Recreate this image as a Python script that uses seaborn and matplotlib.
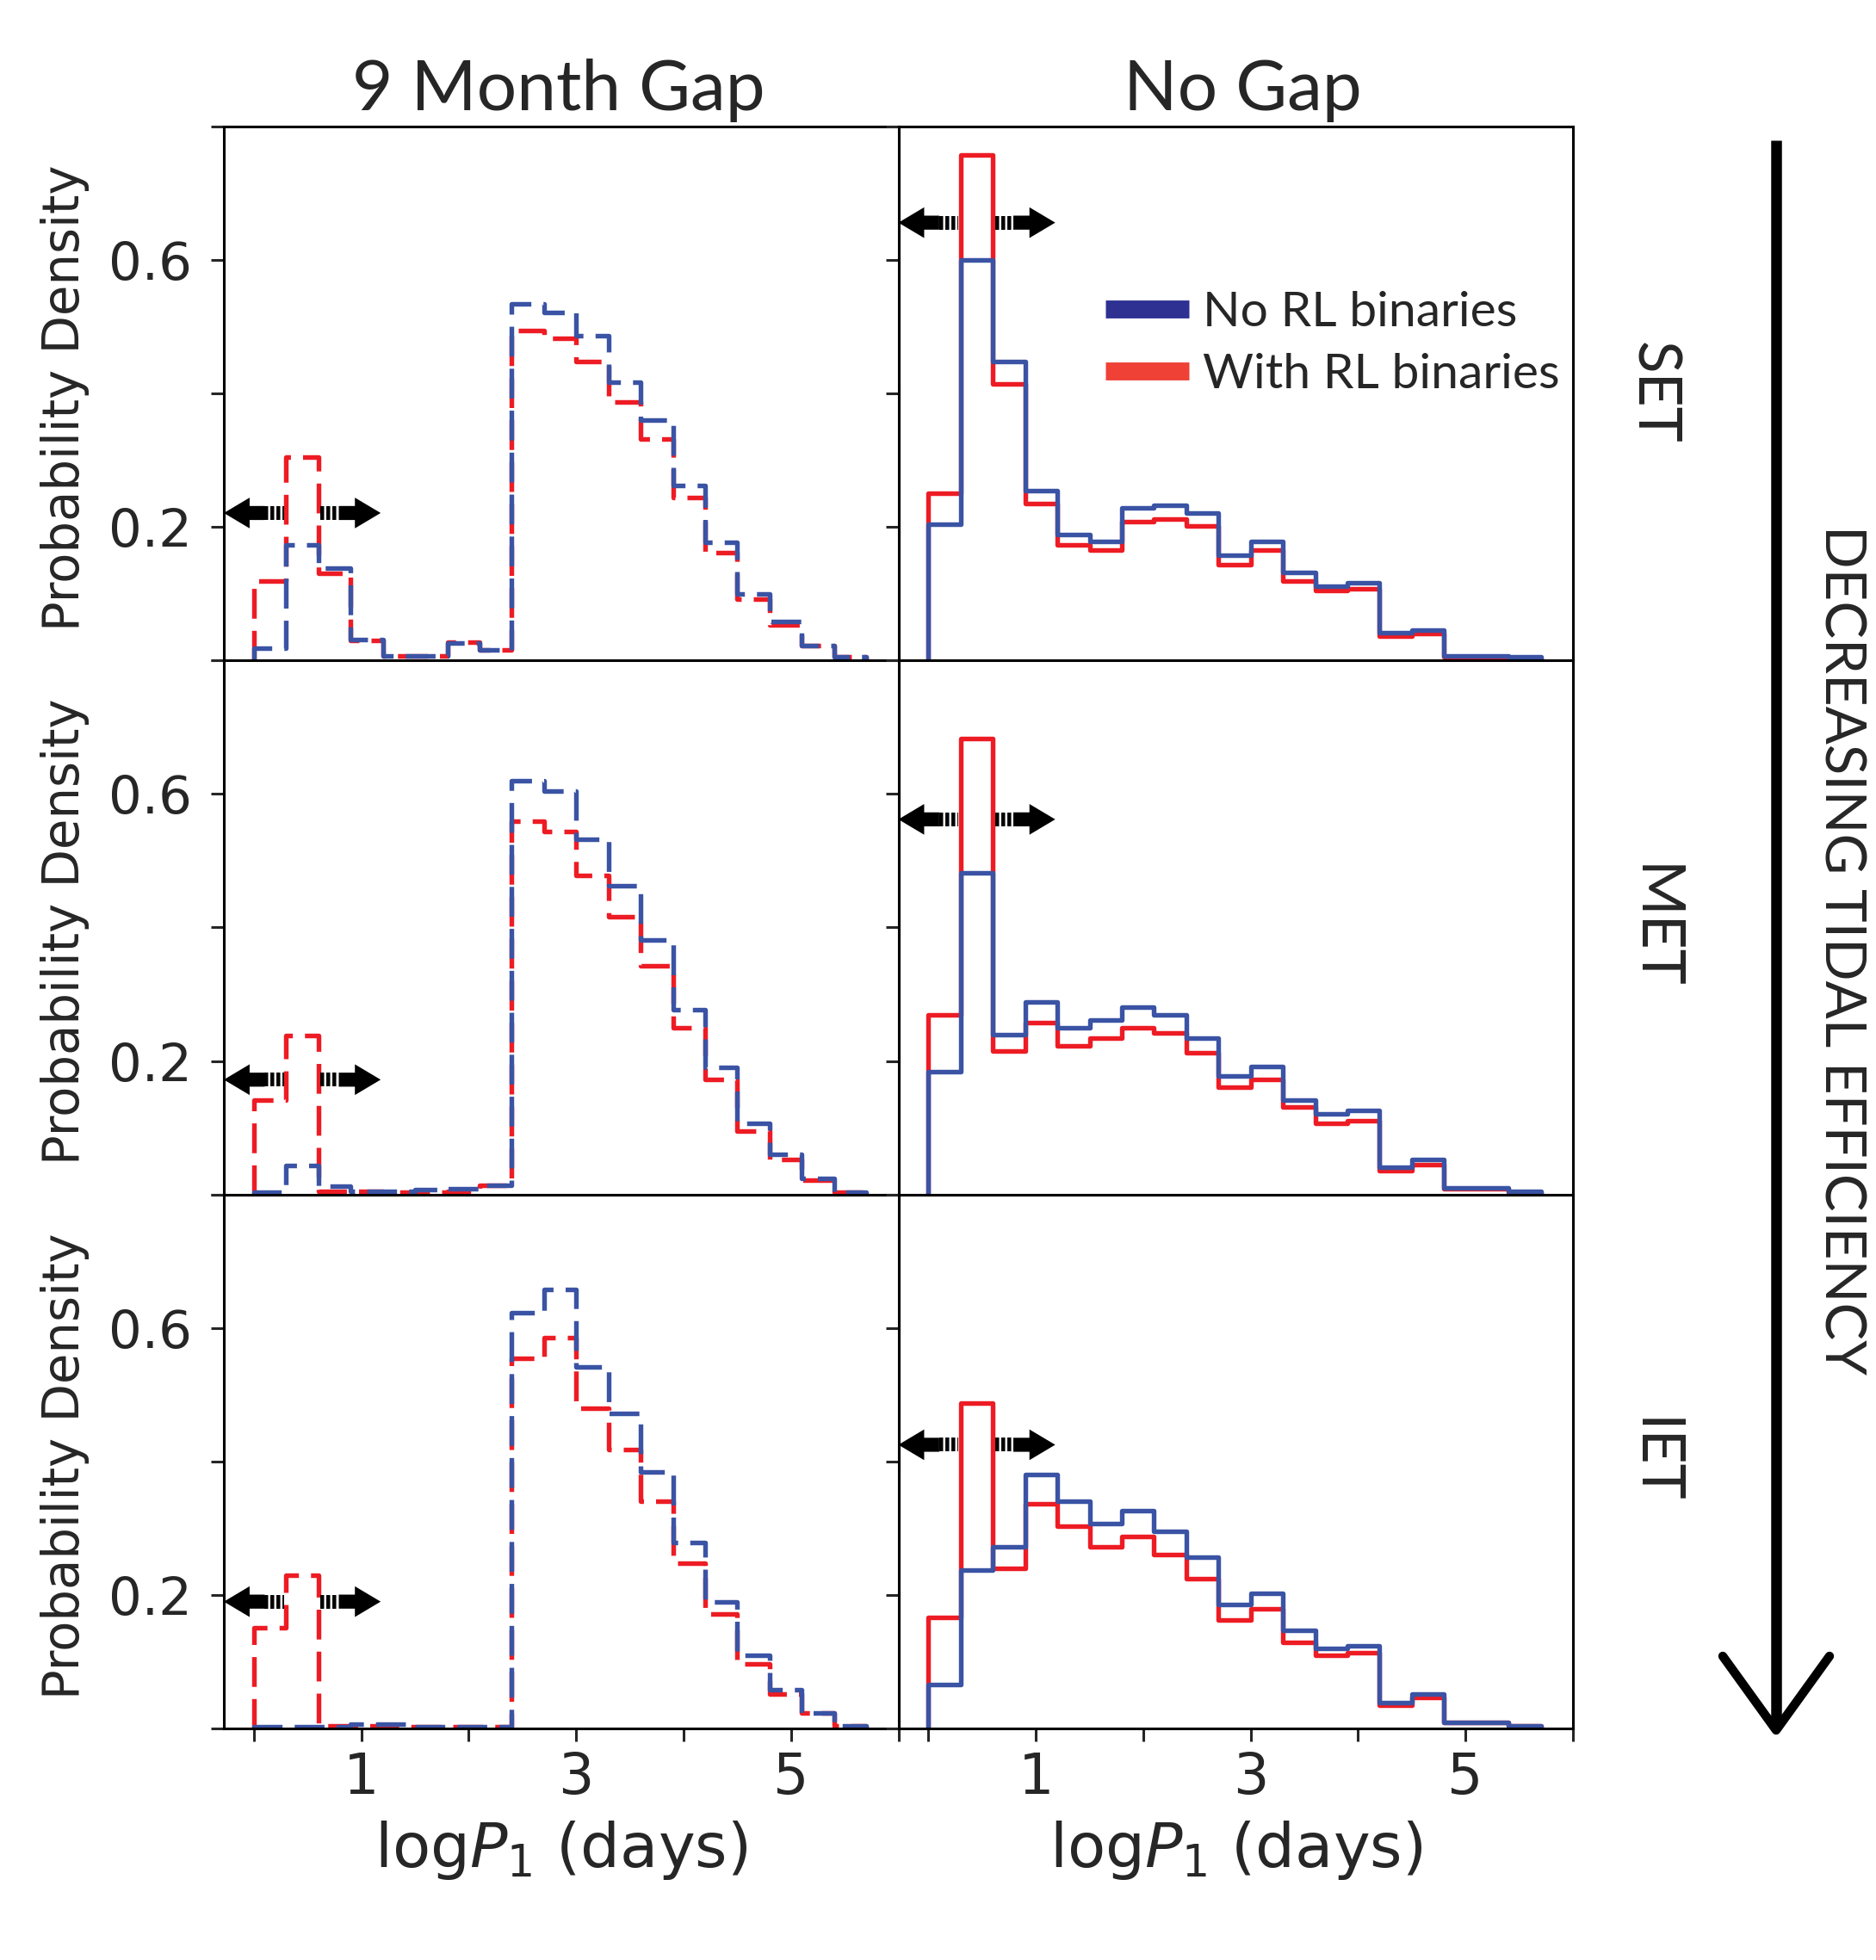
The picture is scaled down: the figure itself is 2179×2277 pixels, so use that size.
import numpy as np
import matplotlib
matplotlib.use("Agg")
import matplotlib.pyplot as plt
import seaborn as sns
from matplotlib.lines import Line2D
from matplotlib.patches import FancyArrow

# ---------------- data ----------------
bin_edges = [0.0, 0.3, 0.6, 0.9, 1.2, 1.5, 1.8, 2.1, 2.4, 2.7, 3.0,
             3.3, 3.6, 3.9, 4.2, 4.5, 4.8, 5.1, 5.4, 5.7]

gap_set_no_rl = [0.018, 0.173, 0.138, 0.031, 0.007, 0.007, 0.026, 0.016, 0.534, 0.521,
                 0.487, 0.417, 0.360, 0.262, 0.177, 0.100, 0.058, 0.022, 0.005]
gap_set_rl = [0.119, 0.305, 0.131, 0.030, 0.007, 0.007, 0.027, 0.016, 0.495, 0.483,
              0.448, 0.387, 0.332, 0.244, 0.162, 0.092, 0.053, 0.022, 0.005]
nogap_set_no_rl = [0.204, 0.600, 0.448, 0.255, 0.189, 0.178, 0.229, 0.232, 0.221, 0.158,
                   0.178, 0.132, 0.111, 0.116, 0.042, 0.046, 0.007, 0.007, 0.005]
nogap_set_rl = [0.251, 0.757, 0.414, 0.235, 0.173, 0.166, 0.208, 0.212, 0.202, 0.143,
                0.166, 0.119, 0.105, 0.108, 0.037, 0.040, 0.005, 0.004, 0.003]

gap_met_no_rl = [0.004, 0.044, 0.013, 0.005, 0.005, 0.007, 0.009, 0.014, 0.620, 0.605,
                 0.532, 0.462, 0.381, 0.277, 0.190, 0.106, 0.060, 0.024, 0.004]
gap_met_rl = [0.141, 0.238, 0.005, 0.005, 0.003, 0.003, 0.005, 0.014, 0.559, 0.544,
              0.478, 0.416, 0.342, 0.250, 0.172, 0.095, 0.053, 0.021, 0.004]
nogap_met_no_rl = [0.184, 0.482, 0.239, 0.289, 0.250, 0.262, 0.281, 0.269, 0.234, 0.177,
                   0.192, 0.141, 0.121, 0.126, 0.041, 0.053, 0.010, 0.010, 0.005]
nogap_met_rl = [0.269, 0.683, 0.215, 0.258, 0.223, 0.234, 0.250, 0.242, 0.212, 0.161,
                0.172, 0.131, 0.107, 0.110, 0.036, 0.045, 0.009, 0.009, 0.004]

gap_iet_no_rl = [0.003, 0.003, 0.003, 0.006, 0.006, 0.003, 0.003, 0.003, 0.623, 0.658,
                 0.542, 0.472, 0.384, 0.279, 0.190, 0.109, 0.058, 0.023, 0.004]
gap_iet_rl = [0.151, 0.229, 0.004, 0.004, 0.003, 0.003, 0.003, 0.003, 0.554, 0.585,
              0.480, 0.418, 0.341, 0.248, 0.171, 0.097, 0.051, 0.023, 0.004]
nogap_iet_no_rl = [0.066, 0.237, 0.272, 0.380, 0.341, 0.307, 0.326, 0.295, 0.256, 0.186,
                   0.202, 0.147, 0.120, 0.124, 0.039, 0.052, 0.009, 0.009, 0.004]
nogap_iet_rl = [0.167, 0.488, 0.240, 0.337, 0.303, 0.272, 0.287, 0.260, 0.224, 0.163,
                0.179, 0.129, 0.109, 0.113, 0.035, 0.046, 0.009, 0.009, 0.004]

column_titles = ["9 Month Gap", "No Gap"]
row_labels = ["SET", "MET", "IET"]
series_labels = ["No RL binaries", "With RL binaries"]
side_label = "DECREASING TIDAL EFFICIENCY"
y_ticks = [0.0, 0.2, 0.4, 0.6, 0.8]
y_ticklabels = ["", "0.2", "", "0.6", ""]
x_ticks = [0, 1, 2, 3, 4, 5, 6]
x_ticklabels = ["", "1", "", "3", "", "5", ""]
# y position of the double arrows (data units), [row][col]
arrow_y = [[0.221, 0.656], [0.172, 0.562], [0.190, 0.425]]

panels = [
    [(gap_set_no_rl, gap_set_rl), (nogap_set_no_rl, nogap_set_rl)],
    [(gap_met_no_rl, gap_met_rl), (nogap_met_no_rl, nogap_met_rl)],
    [(gap_iet_no_rl, gap_iet_rl), (nogap_iet_no_rl, nogap_iet_rl)],
]

# ---------------- style ----------------
BLUE = "#3A53A4"
RED = "#ED1C24"
LEG_BLUE = "#2E3192"
LEG_RED = "#EF4136"
TXT_FONT = ["Lato", "DejaVu Sans"]

sns.set_style("ticks")
plt.rcParams["font.family"] = ["DejaVu Sans"]
plt.rcParams["mathtext.fontset"] = "dejavusans"

W, H, DPI = 2179, 2277, 100
fig = plt.figure(figsize=(W / DPI, H / DPI), dpi=DPI)
axes = fig.subplots(3, 2)
fig.subplots_adjust(left=260 / W, right=1827 / W, bottom=1 - 2008 / H,
                    top=1 - 147 / H, wspace=0, hspace=0)

centers = [(a + b) / 2 for a, b in zip(bin_edges[:-1], bin_edges[1:])]
# tiny empty bins at both ends so the step outline drops to zero at the ends
padded_edges = [bin_edges[0] - 1e-3] + bin_edges + [bin_edges[-1] + 1e-3]

LW = 3.9
SPINE_LW = 2.2
TICK_LEN = 10.8


def double_arrow(ax, y):
    kw = dict(color="k", lw=0, zorder=6, clip_on=False, length_includes_head=True)
    shaft_h, head_h, head_l = 0.021, 0.046, 0.24
    # left-pointing arrow
    ax.add_patch(FancyArrow(0.10, y, -0.38, 0, width=shaft_h, head_width=head_h,
                            head_length=head_l, **kw))
    ax.plot([0.10, 0.28], [y, y], color="k", lw=11.5, linestyle=(0, (0.28, 0.16)),
            dash_capstyle="butt", zorder=6, clip_on=False)
    # right-pointing arrow
    ax.add_patch(FancyArrow(0.79, y, 0.39, 0, width=shaft_h, head_width=head_h,
                            head_length=head_l, **kw))
    ax.plot([0.62, 0.79], [y, y], color="k", lw=11.5, linestyle=(0, (0.28, 0.16)),
            dash_capstyle="butt", zorder=6, clip_on=False)


for r in range(3):
    for c in range(2):
        ax = axes[r, c]
        no_rl, with_rl = panels[r][c]
        ls = (0, (6.4, 2.6)) if c == 0 else "-"
        sns.histplot(x=centers, weights=with_rl, bins=padded_edges, element="step",
                     fill=False, color=RED, linewidth=LW, linestyle=ls, ax=ax,
                     legend=False)
        sns.histplot(x=centers, weights=no_rl, bins=padded_edges, element="step",
                     fill=False, color=BLUE, linewidth=LW, linestyle=ls, ax=ax,
                     legend=False)
        ax.set_xlim(-0.28, 6.0)
        ax.set_ylim(0, 0.8)
        for sp in ax.spines.values():
            sp.set_visible(True)
            sp.set_linewidth(SPINE_LW)
            sp.set_color("k")
        ax.set_yticks(y_ticks)
        ax.set_xticks(x_ticks)
        ax.tick_params(axis="y", direction="out", length=TICK_LEN, width=SPINE_LW,
                       labelsize=44, pad=16, left=True, right=False)
        if c == 0:
            ax.set_yticklabels(y_ticklabels)
            ax.set_ylabel("Probability Density", fontsize=41.5)
            ax.yaxis.set_label_coords(-0.199, 0.492)
        else:
            ax.set_yticklabels([])
            ax.set_ylabel("")
        if r == 2:
            ax.set_xticklabels(x_ticklabels)
            ax.tick_params(axis="x", direction="out", length=TICK_LEN, width=SPINE_LW,
                           labelsize=47, pad=8, bottom=True, top=False)
            ax.set_xlabel("log$P_1$ (days)", fontsize=52)
            ax.xaxis.set_label_coords(0.5, -0.169)
        else:
            ax.tick_params(axis="x", bottom=False, top=False, labelbottom=False)
            ax.set_xlabel("")
        double_arrow(ax, arrow_y[r][c])

# legend in the top-right panel
handles = [Line2D([], [], color=LEG_BLUE, lw=15, solid_capstyle="butt"),
           Line2D([], [], color=LEG_RED, lw=15, solid_capstyle="butt")]
axes[0, 1].legend(handles, series_labels, loc="upper left",
                  bbox_to_anchor=(0.307, 0.692), frameon=False,
                  prop=dict(family=TXT_FONT, size=41), handlelength=1.7,
                  handletextpad=0.28, labelspacing=0.36, borderpad=0,
                  borderaxespad=0)

# column titles
fig.text(649 / W, 1 - 128 / H, column_titles[0], ha="center", va="baseline",
         family=TXT_FONT, size=59)
fig.text(1443 / W, 1 - 128 / H, column_titles[1], ha="center", va="baseline",
         family=TXT_FONT, size=59)

# row labels
row_centers = [456, 1077, 1697]
for lab, yc in zip(row_labels, row_centers):
    fig.text(1920 / W, 1 - yc / H, lab, rotation=270, ha="center", va="center",
             family=TXT_FONT, size=50)

# big arrow and side label
fig.add_artist(Line2D([2063 / W, 2063 / W], [1 - 163 / H, 1 - 2003 / H],
                      transform=fig.transFigure, color="k", lw=9,
                      solid_capstyle="butt"))
fig.add_artist(Line2D([2001 / W, 2063 / W, 2125 / W],
                      [1 - 1924 / H, 1 - 2010 / H, 1 - 1924 / H],
                      transform=fig.transFigure, color="k", lw=7.5,
                      solid_capstyle="round", solid_joinstyle="round"))
fig.text(2138 / W, 1 - 1104 / H, side_label, rotation=270, ha="center", va="center",
         family=TXT_FONT, size=47)

fig.savefig("out.png", dpi=DPI)
